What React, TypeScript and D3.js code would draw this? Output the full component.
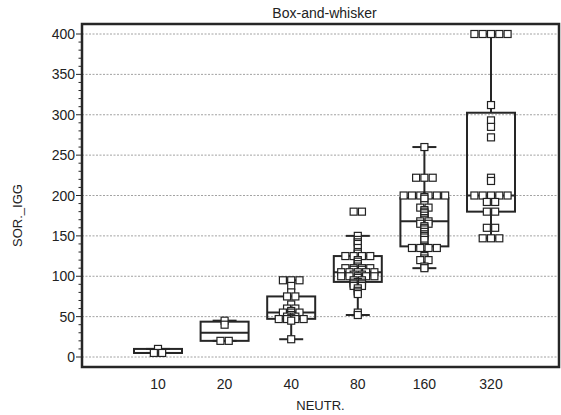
import React from "react";
import * as d3 from "d3";

// Category labels on the x axis (NEUTR. titre)
const categories = ["10", "20", "40", "80", "160", "320"];

// Observed SOR._IGG values per NEUTR. group
const values10 = [5, 5, 10];
const values20 = [20, 20, 40, 45];
const values40 = [22, 45, 47, 47, 47, 47, 48, 50, 50, 52, 55, 55, 55, 57, 60, 60, 65, 75, 75, 80, 88, 95, 95, 95];
const values80 = [
  52, 55, 78, 80, 82, 85, 88, 88, 90, 90, 92, 92, 93, 95, 95, 98, 100, 100, 100, 100, 100, 102, 102, 105,
  105, 105, 105, 105, 108, 108, 110, 110, 110, 110, 112, 115, 118, 120, 125, 125, 125, 125, 128, 130, 135,
  140, 142, 145, 150, 180, 180,
];
const values160 = [
  110, 112, 120, 120, 122, 125, 135, 135, 135, 135, 136, 138, 145, 148, 150, 152, 155, 158, 160, 162, 165,
  165, 168, 168, 170, 172, 175, 178, 180, 182, 185, 185, 188, 196, 198, 200, 200, 200, 200, 200, 200, 222,
  222, 222, 260,
];
const values320 = [
  147, 147, 147, 160, 160, 180, 180, 192, 192, 200, 200, 200, 200, 200, 218, 222, 272, 285, 293, 312, 400,
  400, 400, 400, 400,
];

const groups = [values10, values20, values40, values80, values160, values320];

// Y axis ticks
const majorTicks = [0, 50, 100, 150, 200, 250, 300, 350, 400];
const minorTicks = d3.range(0, 401, 10);

const W = 561;
const H = 415;
const frame = { left: 82, top: 24, right: 559, bottom: 367 };

// (n+1)p quantile definition
function quantile6(sorted: number[], p: number): number {
  const n = sorted.length;
  const h = (n + 1) * p;
  if (h <= 1) return sorted[0];
  if (h >= n) return sorted[n - 1];
  const lo = Math.floor(h);
  const frac = h - lo;
  return sorted[lo - 1] + frac * (sorted[lo] - sorted[lo - 1]);
}

function boxStats(vals: number[]) {
  const s = [...vals].sort((a, b) => a - b);
  const q1 = quantile6(s, 0.25);
  const med = quantile6(s, 0.5);
  const q3 = quantile6(s, 0.75);
  const iqr = q3 - q1;
  const lowFence = q1 - 1.5 * iqr;
  const highFence = q3 + 1.5 * iqr;
  const lo = d3.min(s.filter((v) => v >= lowFence)) ?? s[0];
  const hi = d3.max(s.filter((v) => v <= highFence)) ?? s[s.length - 1];
  return { q1, med, q3, lo, hi };
}

export default function App() {
  const y = d3.scaleLinear().domain([0, 400]).range([357, 34]);
  const x = d3.scalePoint<string>().domain(categories).range([158, 491]);

  const boxW = 48;
  const capW = 24;
  const sq = 7;
  const pitch = 8.3;
  const ink = "#262626";

  return (
    <svg
      width={W}
      height={H}
      style={{ position: "absolute", left: 0, top: 0, background: "#fff" }}
      fontFamily="'Liberation Sans', Arial, sans-serif"
    >
      <rect x={0} y={0} width={W} height={H} fill="#fff" />
      <text x={(frame.left + frame.right) / 2 + 4} y={18} fontSize={14} textAnchor="middle" fill="#222">
        Box-and-whisker
      </text>

      {/* grid */}
      {majorTicks.map((t) => (
        <line
          key={"g" + t}
          x1={frame.left}
          x2={frame.right}
          y1={y(t)}
          y2={y(t)}
          stroke="#8a8a8a"
          strokeWidth={0.8}
          strokeDasharray="2,1.5"
        />
      ))}

      {/* y axis ticks */}
      {minorTicks.map((t) => (
        <line
          key={"m" + t}
          x1={frame.left - (t % 50 === 0 ? 6 : 3.5)}
          x2={frame.left}
          y1={y(t)}
          y2={y(t)}
          stroke={ink}
          strokeWidth={1}
        />
      ))}
      {majorTicks.map((t) => (
        <text key={"l" + t} x={75} y={y(t)} dy="0.36em" fontSize={14} textAnchor="end" fill="#222">
          {t}
        </text>
      ))}

      {/* frame */}
      <rect
        x={frame.left}
        y={frame.top}
        width={frame.right - frame.left}
        height={frame.bottom - frame.top}
        fill="none"
        stroke={ink}
        strokeWidth={2.5}
      />

      {/* boxes */}
      {groups.map((vals, i) => {
        const cx = x(categories[i]) as number;
        const st = boxStats(vals);
        return (
          <g key={"b" + i} stroke={ink} strokeWidth={2} fill="none">
            <line x1={cx} x2={cx} y1={y(st.q3)} y2={y(st.hi)} />
            <line x1={cx} x2={cx} y1={y(st.q1)} y2={y(st.lo)} />
            <line x1={cx - capW / 2} x2={cx + capW / 2} y1={y(st.hi)} y2={y(st.hi)} />
            <line x1={cx - capW / 2} x2={cx + capW / 2} y1={y(st.lo)} y2={y(st.lo)} />
            <rect x={cx - boxW / 2} y={y(st.q3)} width={boxW} height={y(st.q1) - y(st.q3)} />
            <line x1={cx - boxW / 2} x2={cx + boxW / 2} y1={y(st.med)} y2={y(st.med)} />
          </g>
        );
      })}

      {/* data points: equal values spread side by side */}
      {groups.map((vals, i) => {
        const cx = x(categories[i]) as number;
        const rows = d3.rollups(vals, (v) => v.length, (v) => v).sort((a, b) => b[0] - a[0]);
        return (
          <g key={"p" + i} stroke="#222" strokeWidth={1.2} fill="#fff">
            {rows.flatMap(([v, c]) =>
              d3.range(c).map((k) => (
                <rect
                  key={v + "-" + k}
                  x={cx + (k - (c - 1) / 2) * pitch - sq / 2}
                  y={y(v) - sq / 2}
                  width={sq}
                  height={sq}
                />
              ))
            )}
          </g>
        );
      })}

      {/* x labels */}
      {categories.map((c) => (
        <text key={"x" + c} x={x(c) as number} y={389} fontSize={14} textAnchor="middle" fill="#222">
          {c}
        </text>
      ))}
      <text x={(frame.left + frame.right) / 2} y={410} fontSize={13} textAnchor="middle" fill="#222">
        NEUTR.
      </text>
      <text
        transform={`translate(22,${(frame.top + frame.bottom) / 2 + 20}) rotate(-90)`}
        fontSize={13}
        textAnchor="middle"
        fill="#222"
      >
        SOR._IGG
      </text>
    </svg>
  );
}
